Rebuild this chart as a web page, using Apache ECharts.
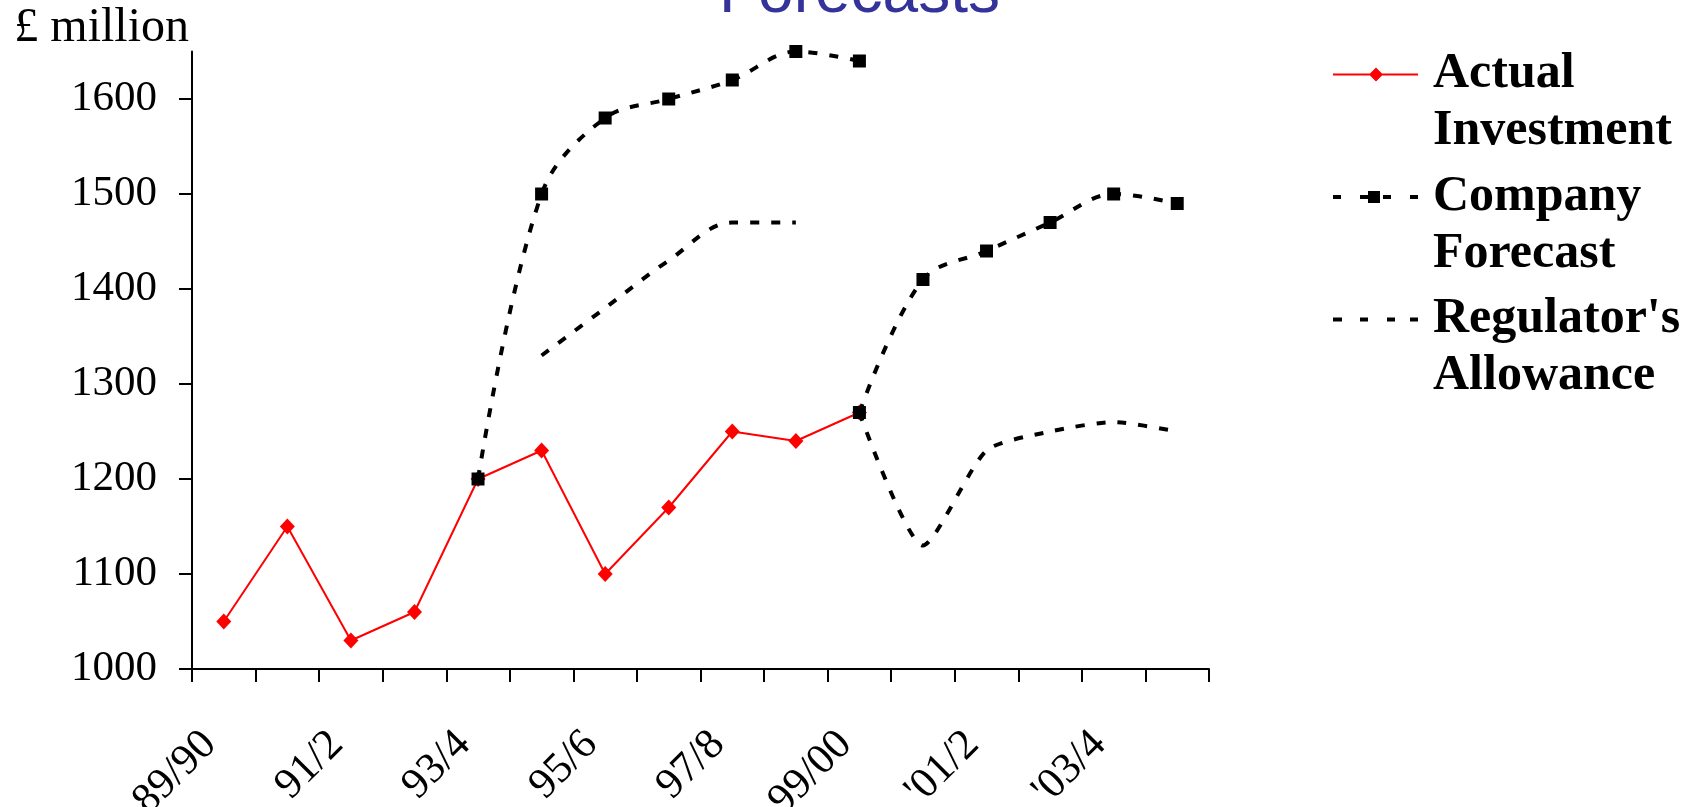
<!DOCTYPE html>
<html>
<head>
<meta charset="utf-8">
<script src="https://cdn.jsdelivr.net/npm/echarts@6/dist/echarts.min.js"></script>
<style>
html,body{margin:0;padding:0;background:#fff;}
#chart{width:1693px;height:807px;}
</style>
</head>
<body>
<div id="chart"></div>
<script>
const categories = ["89/90","90/1","91/2","92/3","93/4","94/5","95/6","96/7","97/8","98/9","99/00","'00/1","'01/2","'02/3","'03/4","'04/5"];
const actualInvestment = [1050,1150,1030,1060,1200,1230,1100,1170,1250,1240,1270,null,null,null,null,null];
const companyForecast1 = [null,null,null,null,1200,1500,1580,1600,1620,1650,1640,null,null,null,null,null];
const companyForecast2 = [null,null,null,null,null,null,null,null,null,null,1270,1410,1440,1470,1500,1490];
const regulatorAllowance1 = [null,null,null,null,null,1330,1380,1430,1470,1470,null,null,null,null,null,null];
const regulatorAllowance2 = [null,null,null,null,null,null,null,null,null,null,1270,1130,1230,1250,1260,1250];
const yTicks = [1000,1100,1200,1300,1400,1500,1600];

const NAME_ACTUAL = 'Actual Investment';
const NAME_COMPANY = 'Company Forecast';
const NAME_REG = "Regulator's Allowance";

const serif = "'Liberation Serif','Times New Roman',serif";
const dashStyle = {color:'#000', width:4, type:[9,12]};

const chart = echarts.init(document.getElementById('chart'), null, {renderer:'canvas'});
chart.setOption({
  animation:false,
  backgroundColor:'#ffffff',
  title:{
    text:'Forecasts',
    left:719, top:-38,
    padding:0,
    textStyle:{fontFamily:"'Liberation Sans',Arial,sans-serif", fontSize:64, fontWeight:'normal', color:'#333399'}
  },
  legend:{
    orient:'vertical',
    left:1333, top:-11,
    padding:0,
    itemWidth:95, itemHeight:14, itemGap:-48.5,
    selectedMode:false,
    formatter:function(n){return '\n' + n.replace(' ', '\n');},
    textStyle:{fontFamily:serif, fontSize:50, fontWeight:'bold', color:'#000', lineHeight:57},
    data:[
      {name:NAME_ACTUAL, icon:'path://M0,6h85v2h-85z M43,0L50,7L43,14L36,7z M95,7'},
      {name:NAME_COMPANY, icon:'path://M0,4h8v4h-8z M27,4h8v4h-8z M35,0h12v12h-12z M50,4h8v4h-8z M77,4h8v4h-8z M95,6'},
      {name:NAME_REG, icon:'path://M0,0h9v4h-9z M27,0h8v4h-8z M54,0h8v4h-8z M77,0h8v4h-8z M95,2'}
    ]
  },
  grid:{left:192, right:484, top:51.5, bottom:138, containLabel:false, outerBoundsMode:'none'},
  xAxis:{
    type:'category',
    data:categories,
    boundaryGap:true,
    axisLine:{lineStyle:{color:'#000', width:2}},
    axisTick:{show:true, interval:0, length:13, inside:false, lineStyle:{color:'#000', width:2}},
    axisLabel:{interval:1, rotate:45, margin:55, padding:[0,20,0,0], fontFamily:serif, fontSize:43, color:'#000'},
    splitLine:{show:false}
  },
  yAxis:{
    type:'value',
    min:1000, max:1650, interval:100,
    name:'£ million',
    nameLocation:'end',
    nameGap:-1,
    nameTextStyle:{fontFamily:serif, fontSize:48, color:'#000', align:'right', verticalAlign:'bottom', padding:[0,3,0,0]},
    axisLine:{show:true, lineStyle:{color:'#000', width:2}},
    axisTick:{show:true, length:13, inside:false, customValues:yTicks, lineStyle:{color:'#000', width:2}},
    axisLabel:{margin:35, customValues:yTicks, formatter:function(v){return String(v);}, fontFamily:serif, fontSize:43, color:'#000'},
    splitLine:{show:false}
  },
  series:[
    {
      name:NAME_ACTUAL, type:'line', data:actualInvestment,
      color:'#ff0000',
      symbol:'diamond', symbolSize:[15,16], showAllSymbol:true,
      lineStyle:{color:'#ff0000', width:2},
      itemStyle:{color:'#ff0000'},
      z:2
    },
    {
      name:NAME_REG, type:'line', data:regulatorAllowance1,
      color:'#000',
      symbol:'none', smooth:0.35,
      lineStyle:dashStyle, itemStyle:{color:'#000'}, z:3
    },
    {
      name:NAME_REG, type:'line', data:regulatorAllowance2,
      color:'#000',
      symbol:'none', smooth:0.22,
      lineStyle:dashStyle, itemStyle:{color:'#000'}, z:3
    },
    {
      name:NAME_COMPANY, type:'line', data:companyForecast1,
      color:'#000',
      symbol:'rect', symbolSize:13, showAllSymbol:true, smooth:0.35,
      lineStyle:dashStyle, itemStyle:{color:'#000'}, z:4
    },
    {
      name:NAME_COMPANY, type:'line', data:companyForecast2,
      color:'#000',
      symbol:'rect', symbolSize:13, showAllSymbol:true, smooth:0.35,
      lineStyle:dashStyle, itemStyle:{color:'#000'}, z:4
    }
  ]
});
</script>
</body>
</html>
